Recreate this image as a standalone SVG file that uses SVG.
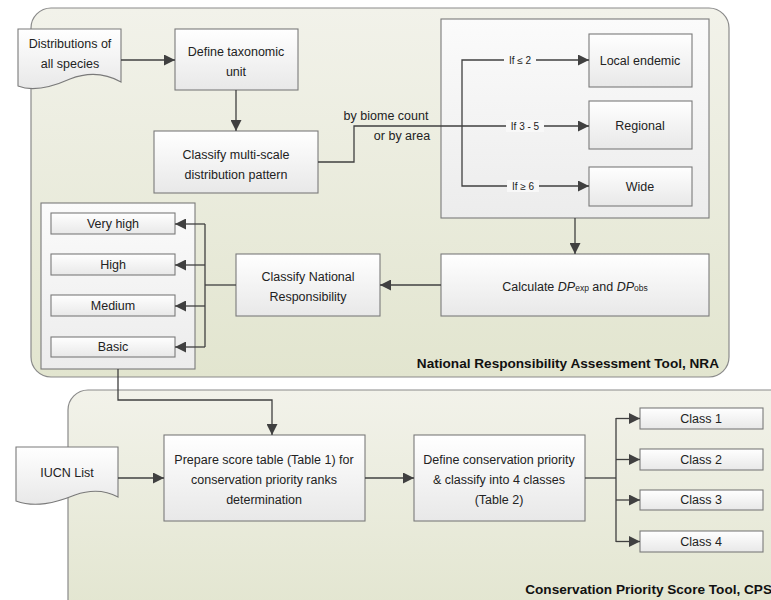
<svg xmlns="http://www.w3.org/2000/svg" width="771" height="600" viewBox="0 0 771 600">
<defs>
<linearGradient id="cont" x1="0" y1="0" x2="0" y2="1">
<stop offset="0" stop-color="#f2f2ea"/>
<stop offset="1" stop-color="#e2e5cf"/>
</linearGradient>
<linearGradient id="box" x1="0" y1="0" x2="0" y2="1">
<stop offset="0" stop-color="#ffffff"/>
<stop offset="1" stop-color="#e8e8e8"/>
</linearGradient>
<linearGradient id="grp" x1="0" y1="0" x2="0" y2="1">
<stop offset="0" stop-color="#fbfbfb"/>
<stop offset="1" stop-color="#ececec"/>
</linearGradient>
<marker id="ah" viewBox="0 0 10 10" refX="10" refY="5" markerWidth="11" markerHeight="11" markerUnits="userSpaceOnUse" orient="auto">
<path d="M0,0 L10,5 L0,10 Z" fill="#404040"/>
</marker>
</defs>
<style>
.cont{fill:url(#cont);stroke:#8a8a8a;stroke-width:1.2}
.box{fill:url(#box);stroke:#7a7a7a;stroke-width:1.1}
.grp{fill:url(#grp);stroke:#7a7a7a;stroke-width:1.1}
.t{font-family:"Liberation Sans",Arial,sans-serif;font-size:12.5px;fill:#222;text-anchor:middle}
.s{font-family:"Liberation Sans",Arial,sans-serif;font-size:10px;fill:#222;text-anchor:middle}
.title{font-family:"Liberation Sans",Arial,sans-serif;font-size:13.6px;font-weight:bold;fill:#111;text-anchor:end}
.c{fill:none;stroke:#404040;stroke-width:1.3}
.lb{fill:#f8f8f8}
</style>
<g id="containers">
<rect class="cont" x="31" y="8" width="698" height="369" rx="20"/>
<rect class="cont" x="68" y="390" width="740" height="230" rx="20"/>
<text class="title" x="719" y="368">National Responsibility Assessment Tool, NRA</text>
<text class="title" x="772" y="594">Conservation Priority Score Tool, CPS</text>
</g>
<g id="n-distributions">
<path class="box" d="M18,29 H121 V82 C105,73 88,72 70,79 C52,87 33,92 18,86 Z"/>
<text class="t" x="70" y="48">Distributions of</text>
<text class="t" x="70" y="68">all species</text>
</g>
<g id="n-define-taxon">
<rect class="box" x="175" y="29" width="123" height="61"/>
<text class="t" x="236" y="56">Define taxonomic</text>
<text class="t" x="236" y="76">unit</text>
</g>
<g id="n-classify-multi">
<rect class="box" x="154" y="131" width="164" height="62"/>
<text class="t" x="236" y="159">Classify multi-scale</text>
<text class="t" x="236" y="179">distribution pattern</text>
</g>
<g id="n-range-group">
<rect class="grp" x="441" y="19" width="268" height="199"/>
</g>
<g id="n-local">
<rect class="box" x="589" y="34" width="103" height="53"/>
<text class="t" x="640" y="65">Local endemic</text>
</g>
<g id="n-regional">
<rect class="box" x="589" y="101" width="103" height="48"/>
<text class="t" x="640" y="130">Regional</text>
</g>
<g id="n-wide">
<rect class="box" x="589" y="167" width="103" height="39"/>
<text class="t" x="640" y="191">Wide</text>
</g>
<g id="n-calc">
<rect class="box" x="441" y="254" width="268" height="62"/>
<text class="t" x="575" y="291">Calculate <tspan font-style="italic">DP</tspan><tspan font-size="8.5px">exp</tspan> and <tspan font-style="italic">DP</tspan><tspan font-size="8.5px">obs</tspan></text>
</g>
<g id="n-classify-national">
<rect class="box" x="236" y="254" width="144" height="62"/>
<text class="t" x="308" y="281">Classify National</text>
<text class="t" x="308" y="301">Responsibility</text>
</g>
<g id="n-resp-group">
<rect class="grp" x="41" y="203" width="154" height="166"/>
</g>
<g id="n-veryhigh">
<rect class="box" x="51" y="213" width="124" height="21"/>
<text class="t" x="113" y="228">Very high</text>
</g>
<g id="n-high">
<rect class="box" x="51" y="254" width="124" height="21"/>
<text class="t" x="113" y="269">High</text>
</g>
<g id="n-medium">
<rect class="box" x="51" y="295" width="124" height="21"/>
<text class="t" x="113" y="310">Medium</text>
</g>
<g id="n-basic">
<rect class="box" x="51" y="337" width="124" height="20"/>
<text class="t" x="113" y="351">Basic</text>
</g>
<g id="n-iucn">
<path class="box" d="M16,447 H118 V497 C105,490 92,489 75,495 C55,503 35,508 16,501 Z"/>
<text class="t" x="67" y="477">IUCN List</text>
</g>
<g id="n-prepare">
<rect class="box" x="164" y="435" width="201" height="86"/>
<text class="t" x="264" y="464">Prepare score table (Table 1) for</text>
<text class="t" x="264" y="484">conservation priority ranks</text>
<text class="t" x="264" y="504">determination</text>
</g>
<g id="n-define-cons">
<rect class="box" x="414" y="435" width="171" height="86"/>
<text class="t" x="499" y="464">Define conservation priority</text>
<text class="t" x="499" y="484">&amp; classify into 4 classes</text>
<text class="t" x="499" y="504">(Table 2)</text>
</g>
<g id="n-class1">
<rect class="box" x="640" y="408" width="123" height="21"/>
<text class="t" x="701" y="423">Class 1</text>
</g>
<g id="n-class2">
<rect class="box" x="640" y="449" width="123" height="21"/>
<text class="t" x="701" y="464">Class 2</text>
</g>
<g id="n-class3">
<rect class="box" x="640" y="490" width="123" height="20"/>
<text class="t" x="701" y="504">Class 3</text>
</g>
<g id="n-class4">
<rect class="box" x="640" y="531" width="123" height="21"/>
<text class="t" x="701" y="546">Class 4</text>
</g>
<g id="connectors">
<path class="c" d="M121,60 H175" marker-end="url(#ah)"/>
<path class="c" d="M236,90 V131" marker-end="url(#ah)"/>
<path class="c" d="M318,162 H354 V126 H589" marker-end="url(#ah)"/>
<path class="c" d="M462,126 V60 H589" marker-end="url(#ah)"/>
<path class="c" d="M462,126 V186 H589" marker-end="url(#ah)"/>
<text class="t" x="386" y="120">by biome count</text>
<text class="t" x="402" y="140">or by area</text>
<rect class="lb" x="504" y="54" width="32" height="12"/>
<text class="s" x="520" y="63.5">If ≤ 2</text>
<rect class="lb" x="506" y="120" width="38" height="12"/>
<text class="s" x="525" y="129.5">If 3 - 5</text>
<rect class="lb" x="507" y="180" width="32" height="12"/>
<text class="s" x="523" y="189.5">If ≥ 6</text>
<path class="c" d="M575,218 V254" marker-end="url(#ah)"/>
<path class="c" d="M441,285 H380" marker-end="url(#ah)"/>
<path class="c" d="M236,285 H205"/>
<path class="c" d="M205,224 V347"/>
<path class="c" d="M205,224 H175" marker-end="url(#ah)"/>
<path class="c" d="M205,265 H175" marker-end="url(#ah)"/>
<path class="c" d="M205,306 H175" marker-end="url(#ah)"/>
<path class="c" d="M205,347 H175" marker-end="url(#ah)"/>
<path class="c" d="M118,369 V400 H272 V435" marker-end="url(#ah)"/>
<path class="c" d="M118,478 H164" marker-end="url(#ah)"/>
<path class="c" d="M365,478 H414" marker-end="url(#ah)"/>
<path class="c" d="M585,478 H616"/>
<path class="c" d="M616,418 V542"/>
<path class="c" d="M616,418.5 H640" marker-end="url(#ah)"/>
<path class="c" d="M616,459.5 H640" marker-end="url(#ah)"/>
<path class="c" d="M616,500 H640" marker-end="url(#ah)"/>
<path class="c" d="M616,541.5 H640" marker-end="url(#ah)"/>
</g>
</svg>
